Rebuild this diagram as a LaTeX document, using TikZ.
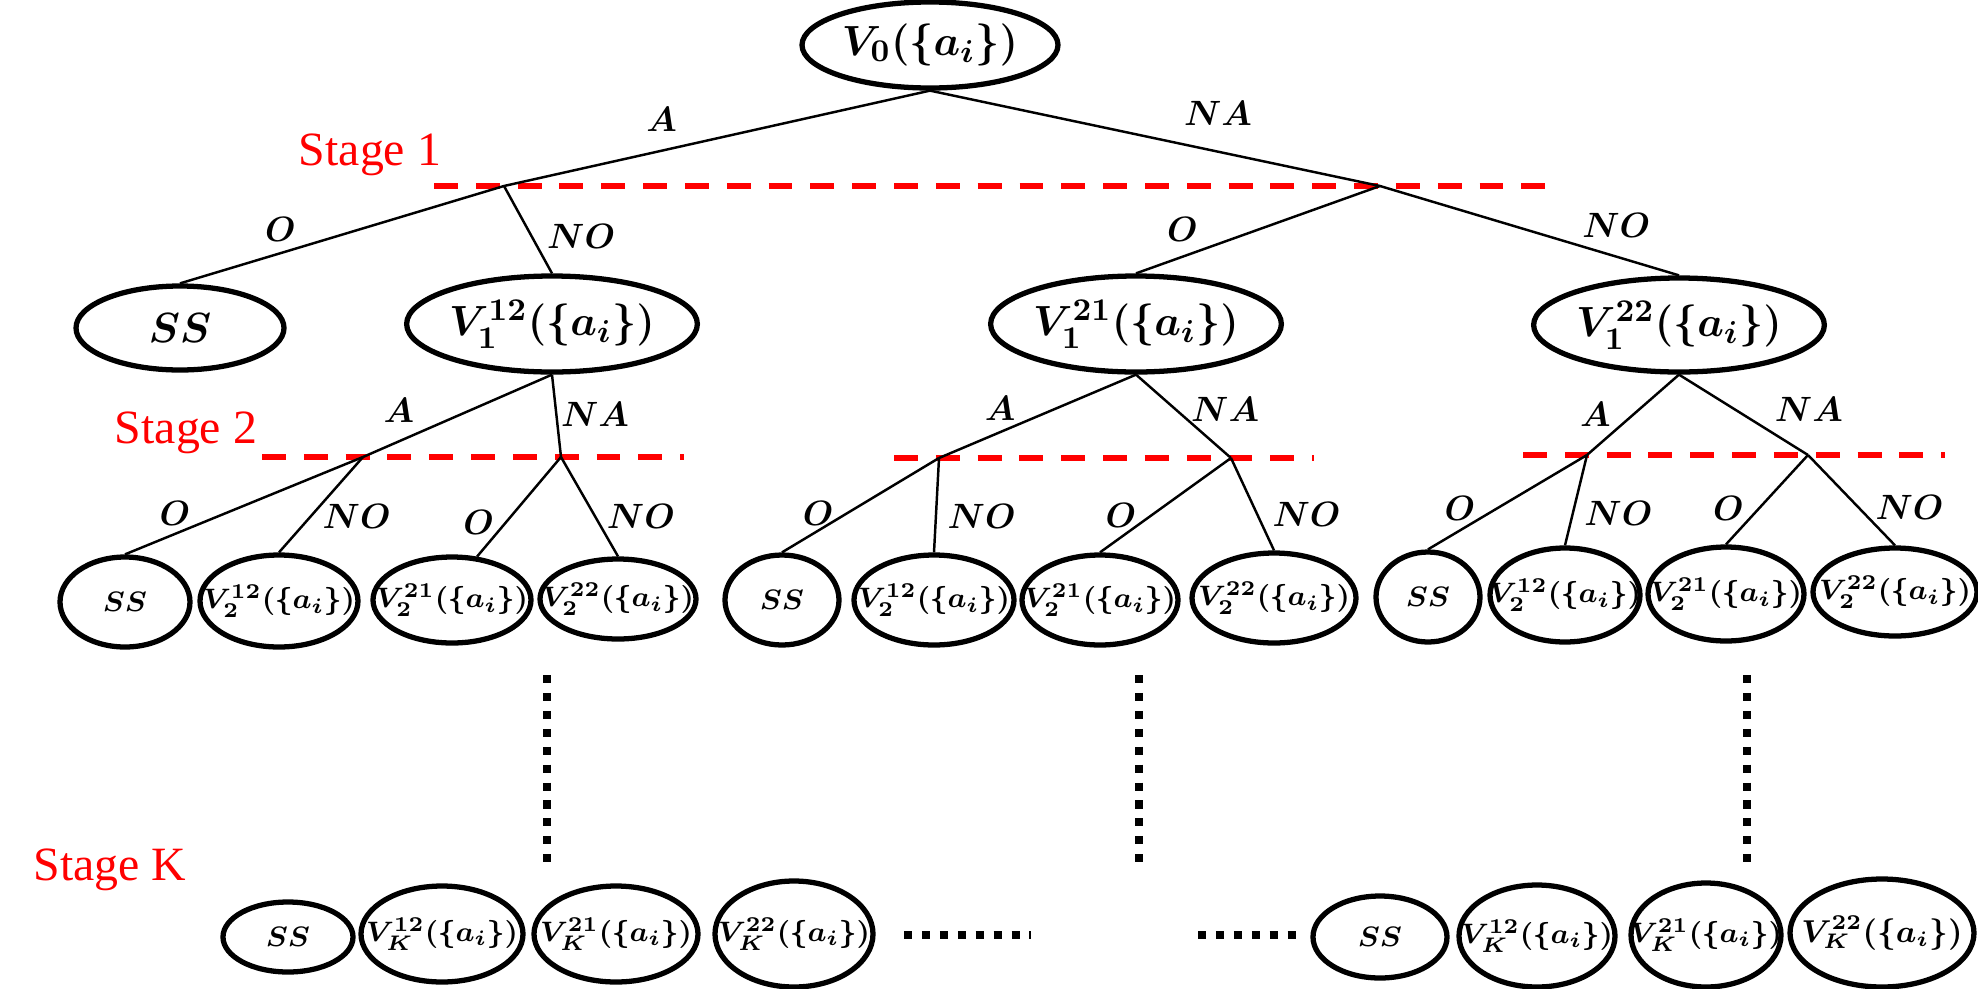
\documentclass[tikz,border=0pt]{standalone}
\usepackage{amsmath,amssymb}
\usepackage{fontspec}
\newfontfamily\stagefont{Liberation Serif}
\usetikzlibrary{shapes.geometric}
\newcommand{\Vst}[2]{$\boldsymbol{V_{#1}^{#2}(\{a_i\})}$}
\newcommand{\blab}[1]{$\boldsymbol{#1}$}

\begin{document}
\begin{tikzpicture}[x=0.1mm, y=-0.1mm,
  state/.style={ellipse, draw, line width=1.5pt, inner sep=0pt},
  big/.style={state, minimum width=28.6mm, minimum height=9.6mm, font=\fontsize{12.5}{14}\selectfont},
  small/.style={state, inner xsep=-8pt, minimum width=16mm, minimum height=9mm, font=\fontsize{8}{10}\selectfont},
  last/.style={state, inner xsep=-8pt, minimum width=16mm, minimum height=10.2mm, font=\fontsize{8}{10}\selectfont},
  branch/.style={line width=0.7pt},
  lab/.style={inner sep=1pt, font=\fontsize{10}{12}\selectfont},
  stageline/.style={red, line width=1.6pt, dash pattern=on 6.8pt off 5.1pt},
  stagelab/.style={text=red, inner sep=0pt, font=\stagefont\fontsize{13.6}{16}\selectfont},
  more/.style={line width=2.3pt, dash pattern=on 2.3pt off 2.8pt}]
 \useasboundingbox (0,0) rectangle (1978,989);

 \node[big, minimum width=25.6mm, minimum height=8.6mm] (V0) at (930,45) {$\boldsymbol{V_0(\{a_i\})}$};
 \node[big, minimum width=20.8mm, minimum height=8.4mm] (SS1) at (180,328) {\blab{SS}};
 \node[big] (V12) at (552,324) {\Vst{1}{12}};
 \node[big, minimum width=28.2mm] (V21) at (1136,324) {\Vst{1}{21}};
 \node[big, minimum width=29mm, minimum height=9.4mm] (V22) at (1679,325) {\Vst{1}{22}};

 \coordinate (P1) at (504,186);
 \coordinate (P2) at (1380,186);
 \coordinate (Q1) at (363,457);
 \coordinate (Q2) at (561,457);
 \coordinate (R1) at (939,458);
 \coordinate (R2) at (1231,458);
 \coordinate (S1) at (1587,455);
 \coordinate (S2) at (1808,455);

 \node[small, minimum width=13mm] (SSa) at (125,602) {\blab{SS}};
 \node[small, minimum width=15.8mm, minimum height=9.2mm] (Va12) at (279,601) {\Vst{2}{12}};
 \node[small, minimum width=15.8mm, minimum height=8.6mm] (Va21) at (452,600) {\Vst{2}{21}};
 \node[small, minimum width=15.6mm, minimum height=8mm] (Va22) at (618,599) {\Vst{2}{22}};
 \node[small, minimum width=11.4mm] (SSb) at (782,600) {\blab{SS}};
 \node[small] (Vb12) at (934,600) {\Vst{2}{12}};
 \node[small, minimum width=15.6mm] (Vb21) at (1100,600) {\Vst{2}{21}};
 \node[small, minimum width=16.4mm] (Vb22) at (1274,598) {\Vst{2}{22}};
 \node[small, minimum width=10.4mm] (SSc) at (1428,597) {\blab{SS}};
 \node[small, minimum width=15mm, minimum height=9.4mm] (Vc12) at (1565,595) {\Vst{2}{12}};
 \node[small, minimum width=15.6mm, minimum height=9.4mm] (Vc21) at (1726,594) {\Vst{2}{21}};
 \node[small, minimum width=16.4mm, minimum height=8.8mm] (Vc22) at (1895,592) {\Vst{2}{22}};

 \node[last, minimum width=13mm, minimum height=7mm] (SSk1) at (288,937) {\blab{SS}};
 \node[last, minimum width=16.2mm, minimum height=9.6mm] (Vk1a) at (442,934) {\Vst{K}{12}};
 \node[last, minimum width=16.4mm, minimum height=9.6mm] (Vk1b) at (616,934) {\Vst{K}{21}};
 \node[last, minimum width=15.8mm, minimum height=10.6mm] (Vk1c) at (794,934) {\Vst{K}{22}};
 \node[last, minimum width=13.4mm, minimum height=8.2mm] (SSk2) at (1380,937) {\blab{SS}};
 \node[last, minimum width=15.6mm] (Vk2a) at (1537,936) {\Vst{K}{12}};
 \node[last, minimum width=15mm, minimum height=10.4mm] (Vk2b) at (1706,935) {\Vst{K}{21}};
 \node[last, minimum width=18.4mm, minimum height=10.8mm, font=\fontsize{9}{11}\selectfont] (Vk2c) at (1882,933) {\Vst{K}{22}};

 \node[stagelab] (St1) at (370,155) {Stage 1};
 \node[stagelab] (St2) at (186,433) {Stage 2};
 \node[stagelab] (StK) at (110,870) {Stage K};

 \draw[stageline] (434,186) -- (1550,186);
 \draw[stageline] (262,457) -- (684,457);
 \draw[stageline] (894,458) -- (1314,458);
 \draw[stageline] (1523,455) -- (1945,455);

 \draw[branch] (V0.south) -- node[lab, pos=.63, above=4pt] {\blab{A}} (P1);
 \draw[branch] (V0.south) -- node[lab, pos=.64, above=6pt] {\blab{NA}} (P2);
 \draw[branch] (P1) -- node[lab, pos=.69, above=2pt] {\blab{O}} (SS1.north);
 \draw[branch] (P1) -- node[lab, pos=.58, right=3pt] {\blab{NO}} (V12.north);
 \draw[branch] (P2) -- node[lab, pos=.81, above=3pt] {\blab{O}} (V21.north);
 \draw[branch] (P2) -- node[lab, pos=.79, above=4pt] {\blab{NO}} (V22.north);
 \draw[branch] (V12.south) -- node[lab, pos=.81, above=4pt] {\blab{A}} (Q1);
 \draw[branch] (V12.south) -- node[lab, pos=.48, right] {\blab{NA}} (Q2);
 \draw[branch] (Q1) -- node[lab, pos=.79, above=1pt] {\blab{O}} (SSa.north);
 \draw[branch] (Q1) -- node[lab, pos=.62, right=2pt] {\blab{NO}} (Va12.north);
 \draw[branch] (Q2) -- node[lab, pos=.66, left=2pt] {\blab{O}} (Va21.60);
 \draw[branch] (Q2) -- node[lab, pos=.6, right=2pt] {\blab{NO}} (Va22.north);
 \draw[branch] (V21.south) -- node[lab, pos=.69, above=2pt] {\blab{A}} (R1);
 \draw[branch] (V21.south) -- node[lab, pos=.42, right=3pt] {\blab{NA}} (R2);
 \draw[branch] (R1) -- node[lab, pos=.77, above] {\blab{O}} (SSb.north);
 \draw[branch] (R1) -- node[lab, pos=.62, right=2pt] {\blab{NO}} (Vb12.north);
 \draw[branch] (R2) -- node[lab, pos=.84, above=1.5pt] {\blab{O}} (Vb21.north);
 \draw[branch] (R2) -- node[lab, pos=.61, right=3pt] {\blab{NO}} (Vb22.north);
 \draw[branch] (V22.south) -- node[lab, pos=.5, left=5pt] {\blab{A}} (S1);
 \draw[branch] (V22.south) -- node[lab, pos=.68, above right=1pt] {\blab{NA}} (S2);
 \draw[branch] (S1) -- node[lab, pos=.8, above=1.5pt] {\blab{O}} (SSc.north);
 \draw[branch] (S1) -- node[lab, pos=.65, right=2pt] {\blab{NO}} (Vc12.north);
 \draw[branch] (S2) -- node[lab, pos=.6, left=3pt] {\blab{O}} (Vc21.north);
 \draw[branch] (S2) -- node[lab, pos=.58, right=3.5pt] {\blab{NO}} (Vc22.north);

 \draw[more] (547,675) -- (547,865);
 \draw[more] (1139,675) -- (1139,865);
 \draw[more] (1747,675) -- (1747,865);
 \draw[more] (904,935) -- (1031,935);
 \draw[more] (1198,935) -- (1296,935);
\end{tikzpicture}
\end{document}
